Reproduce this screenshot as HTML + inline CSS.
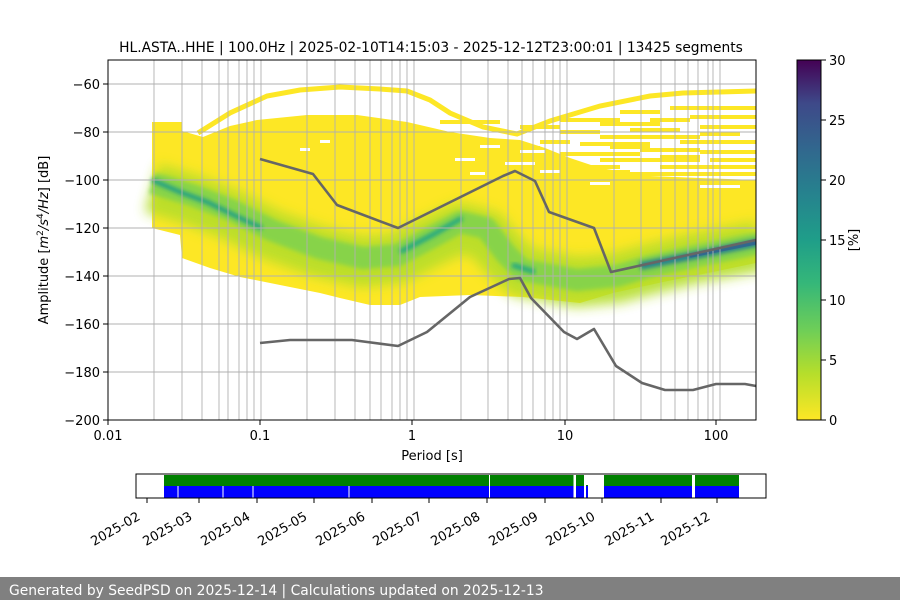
<!DOCTYPE html>
<html><head><meta charset="utf-8"><style>
html,body{margin:0;padding:0;background:#fff;}
svg{display:block;font-family:"DejaVu Sans","Liberation Sans",sans-serif;}
</style></head><body>
<svg width="900" height="600" viewBox="0 0 900 600" xmlns="http://www.w3.org/2000/svg">
<defs>
<linearGradient id="vir" x1="0" y1="1" x2="0" y2="0">
<stop offset="0" stop-color="#fde725"/><stop offset="0.13" stop-color="#b5de2b"/><stop offset="0.25" stop-color="#6ece58"/><stop offset="0.38" stop-color="#35b779"/><stop offset="0.5" stop-color="#1f9e89"/><stop offset="0.63" stop-color="#26828e"/><stop offset="0.75" stop-color="#31688e"/><stop offset="0.88" stop-color="#3e4989"/><stop offset="1" stop-color="#440154"/>
</linearGradient>
<filter id="bl" x="-10%" y="-50%" width="120%" height="200%"><feGaussianBlur stdDeviation="6"/></filter>
<filter id="bl2" x="-10%" y="-50%" width="120%" height="200%"><feGaussianBlur stdDeviation="2"/></filter>
<clipPath id="pc"><rect x="108" y="60" width="648" height="360"/></clipPath>
</defs>
<rect width="900" height="600" fill="#fff"/>
<text x="431" y="52" font-size="13.8" text-anchor="middle">HL.ASTA..HHE | 100.0Hz | 2025-02-10T14:15:03 - 2025-12-12T23:00:01 | 13425 segments</text>
<g clip-path="url(#pc)">
<polyline points="198,133 230,113 267,96 300,90 340,87 380,89 407,91 430,100 450,113 483,127 517,134 550,121 600,106 650,96 683,93 756,91" fill="none" stroke="#fde725" stroke-width="5"/>
<g fill="#fde725">
<rect x="440" y="120" width="60" height="4"/><rect x="520" y="125" width="40" height="4"/><rect x="560" y="118" width="60" height="4"/><rect x="620" y="110" width="40" height="4"/>
<rect x="600" y="122" width="60" height="4"/><rect x="670" y="106" width="86" height="4"/><rect x="690" y="115" width="66" height="4"/>
<rect x="630" y="128" width="50" height="4"/><rect x="700" y="125" width="56" height="4"/><rect x="600" y="135" width="100" height="4"/>
<rect x="580" y="142" width="70" height="4"/><rect x="680" y="140" width="76" height="4"/><rect x="640" y="148" width="60" height="4"/>
<rect x="560" y="152" width="80" height="4"/><rect x="700" y="150" width="56" height="4"/><rect x="600" y="158" width="100" height="4"/>
<rect x="660" y="165" width="96" height="4"/><rect x="560" y="165" width="60" height="4"/><rect x="630" y="172" width="126" height="4"/>
<rect x="540" y="140" width="30" height="4"/><rect x="500" y="146" width="40" height="4"/><rect x="700" y="132" width="40" height="4"/>
<rect x="560" y="130" width="40" height="4"/><rect x="650" y="118" width="40" height="4"/><rect x="610" y="145" width="40" height="4"/>
<rect x="710" y="158" width="46" height="4"/><rect x="590" y="170" width="40" height="4"/><rect x="660" y="155" width="40" height="4"/>
</g>
<path d="M152,122 L182,122 L182,131 L203,137 L230,126 L257,120 L307,115 L357,115 L407,122 L450,132 L490,138 L520,140 L545,148 L570,158 L600,168 L650,176 L700,178 L756,180 L756,263 L713,272 L663,282 L613,293 L580,303 L523,297 L470,295 L420,297 L400,305 L370,305 L340,298 L320,293 L280,285 L240,277 L210,268 L182,258 L180,235 L152,228 Z" fill="#fde725"/>
<g fill="#fff">
<rect x="480" y="145" width="20" height="3"/><rect x="520" y="150" width="25" height="3"/><rect x="455" y="158" width="20" height="3"/><rect x="505" y="162" width="30" height="3"/>
<rect x="540" y="170" width="20" height="3"/><rect x="470" y="172" width="15" height="3"/><rect x="300" y="148" width="10" height="3"/><rect x="320" y="140" width="10" height="3"/>
<rect x="700" y="185" width="40" height="3"/><rect x="590" y="182" width="20" height="3"/>
</g>
<path d="M152,188 L192,200 L231,215 L271,235 L319,252 L363,262 L398,258 L434,240 L460,228 L486,235 L506,258 L522,272 L577,282 L617,278 L647,270 L696,258 L760,246" fill="none" stroke="#b5de2b" stroke-width="50" stroke-linejoin="round" filter="url(#bl)" opacity="0.9"/>
<path d="M152,183 L192,195 L231,210 L271,230 L319,248 L363,258 L398,255 L434,236 L460,222 L486,228 L506,254 L522,270 L577,280 L617,276 L647,267 L696,256 L760,243" fill="none" stroke="#7ad151" stroke-width="22" stroke-linejoin="round" filter="url(#bl2)" opacity="0.8"/>
<path d="M152,180 L180,192 L207,202 L240,218 L262,228" fill="none" stroke="#1f9e89" stroke-width="4.5" filter="url(#bl2)"/>
<path d="M400,252 L434,234 L462,218" fill="none" stroke="#22a884" stroke-width="5" filter="url(#bl2)"/>
<path d="M512,265 L535,272" fill="none" stroke="#22a884" stroke-width="5" filter="url(#bl2)"/>
<path d="M640,266 L696,255 L760,242" fill="none" stroke="#26828e" stroke-width="8" filter="url(#bl2)"/>
<path d="M690,256 L760,242" fill="none" stroke="#31688e" stroke-width="3.5"/>
</g>
<g stroke="#b0b0b0" stroke-width="0.9">
<line x1="108" x2="756" y1="84" y2="84"/><line x1="108" x2="756" y1="132" y2="132"/><line x1="108" x2="756" y1="180" y2="180"/><line x1="108" x2="756" y1="228" y2="228"/><line x1="108" x2="756" y1="276" y2="276"/><line x1="108" x2="756" y1="324" y2="324"/><line x1="108" x2="756" y1="372" y2="372"/>
<line x1="154" x2="154" y1="60" y2="420"/><line x1="182" x2="182" y1="60" y2="420"/><line x1="202" x2="202" y1="60" y2="420"/><line x1="219" x2="219" y1="60" y2="420"/><line x1="228" x2="228" y1="60" y2="420"/><line x1="239" x2="239" y1="60" y2="420"/><line x1="247" x2="247" y1="60" y2="420"/><line x1="254" x2="254" y1="60" y2="420"/><line x1="261" x2="261" y1="60" y2="420"/>
<line x1="307" x2="307" y1="60" y2="420"/><line x1="335" x2="335" y1="60" y2="420"/><line x1="355" x2="355" y1="60" y2="420"/><line x1="370" x2="370" y1="60" y2="420"/><line x1="381" x2="381" y1="60" y2="420"/><line x1="392" x2="392" y1="60" y2="420"/><line x1="400" x2="400" y1="60" y2="420"/><line x1="407" x2="407" y1="60" y2="420"/><line x1="414" x2="414" y1="60" y2="420"/>
<line x1="461" x2="461" y1="60" y2="420"/><line x1="488" x2="488" y1="60" y2="420"/><line x1="508" x2="508" y1="60" y2="420"/><line x1="522" x2="522" y1="60" y2="420"/><line x1="533" x2="533" y1="60" y2="420"/><line x1="545" x2="545" y1="60" y2="420"/><line x1="553" x2="553" y1="60" y2="420"/><line x1="560" x2="560" y1="60" y2="420"/><line x1="567" x2="567" y1="60" y2="420"/>
<line x1="614" x2="614" y1="60" y2="420"/><line x1="641" x2="641" y1="60" y2="420"/><line x1="661" x2="661" y1="60" y2="420"/><line x1="675" x2="675" y1="60" y2="420"/><line x1="688" x2="688" y1="60" y2="420"/><line x1="698" x2="698" y1="60" y2="420"/><line x1="708" x2="708" y1="60" y2="420"/><line x1="713" x2="713" y1="60" y2="420"/><line x1="720" x2="720" y1="60" y2="420"/>
</g>
<polyline points="260,159 313,174 337,205 398,228 503,176 515,171 535,181 549,212 594,228 611,272 756,240" fill="none" stroke="#666" stroke-width="2.6" stroke-linejoin="round"/>
<polyline points="260,343 290,340 352,340 398,346 427,332 470,297 509,279 520,278 531,298 564,332 577,339 594,329 616,366 642,383 665,390 693,390 716,384 745,384 756,386" fill="none" stroke="#666" stroke-width="2.6" stroke-linejoin="round"/>
<rect x="108" y="60" width="648" height="360" fill="none" stroke="#000" stroke-width="1"/>
<g font-size="13" text-anchor="end" fill="#000">
<g stroke="#000"><line x1="103" x2="108" y1="84" y2="84"/><line x1="103" x2="108" y1="132" y2="132"/><line x1="103" x2="108" y1="180" y2="180"/><line x1="103" x2="108" y1="228" y2="228"/><line x1="103" x2="108" y1="276" y2="276"/><line x1="103" x2="108" y1="324" y2="324"/><line x1="103" x2="108" y1="372" y2="372"/><line x1="103" x2="108" y1="420" y2="420"/></g>
<text x="100" y="89">−60</text><text x="100" y="137">−80</text><text x="100" y="185">−100</text><text x="100" y="233">−120</text><text x="100" y="281">−140</text><text x="100" y="329">−160</text><text x="100" y="377">−180</text><text x="100" y="425">−200</text>
</g>
<g font-size="13" text-anchor="middle">
<g stroke="#000"><line x1="108" x2="108" y1="420" y2="425"/><line x1="260" x2="260" y1="420" y2="425"/><line x1="412" x2="412" y1="420" y2="425"/><line x1="565" x2="565" y1="420" y2="425"/><line x1="716" x2="716" y1="420" y2="425"/></g>
<text x="108" y="440">0.01</text><text x="260" y="440">0.1</text><text x="412" y="440">1</text><text x="565" y="440">10</text><text x="716" y="440">100</text>
<text x="432" y="460">Period [s]</text>
</g>
<text transform="translate(48,240) rotate(-90)" font-size="13" text-anchor="middle">Amplitude [<tspan font-style="italic">m</tspan><tspan font-size="9" dy="-5">2</tspan><tspan dy="5" font-style="italic">/s</tspan><tspan font-size="9" dy="-5">4</tspan><tspan dy="5" font-style="italic">/Hz</tspan>] [dB]</text>
<rect x="797" y="60" width="24" height="360" fill="url(#vir)" stroke="#000" stroke-width="1"/>
<g stroke="#000">
<line x1="821" x2="826" y1="420" y2="420"/><line x1="821" x2="826" y1="360" y2="360"/><line x1="821" x2="826" y1="300" y2="300"/><line x1="821" x2="826" y1="240" y2="240"/><line x1="821" x2="826" y1="180" y2="180"/><line x1="821" x2="826" y1="120" y2="120"/><line x1="821" x2="826" y1="60" y2="60"/>
</g>
<g font-size="13">
<text x="829" y="425">0</text><text x="829" y="365">5</text><text x="829" y="305">10</text><text x="829" y="245">15</text><text x="829" y="185">20</text><text x="829" y="125">25</text><text x="829" y="65">30</text>
</g>
<text transform="translate(858,240) rotate(-90)" font-size="13" text-anchor="middle">[%]</text>
<rect x="164" y="475" width="575" height="11" fill="#008000"/>
<rect x="164" y="486" width="575" height="12" fill="#0000ff"/>
<g fill="#fff">
<rect x="177.5" y="486" width="1" height="12"/><rect x="222.5" y="486" width="1" height="12"/><rect x="252.5" y="486" width="1" height="12"/><rect x="348.5" y="486" width="1" height="12"/><rect x="489" y="475" width="1" height="23"/>
<rect x="573.5" y="475" width="2.5" height="23"/><rect x="584" y="475" width="2" height="23"/><rect x="588" y="475" width="16" height="23"/><rect x="586" y="475" width="2" height="10"/>
<rect x="692" y="475" width="3" height="23"/>
</g>
<rect x="136" y="474" width="630" height="24" fill="none" stroke="#000" stroke-width="1"/>
<g stroke="#000">
<line x1="147" x2="147" y1="498" y2="503"/><line x1="199" x2="199" y1="498" y2="503"/><line x1="257" x2="257" y1="498" y2="503"/><line x1="314" x2="314" y1="498" y2="503"/><line x1="372" x2="372" y1="498" y2="503"/><line x1="429" x2="429" y1="498" y2="503"/><line x1="487" x2="487" y1="498" y2="503"/><line x1="545" x2="545" y1="498" y2="503"/><line x1="602" x2="602" y1="498" y2="503"/><line x1="661" x2="661" y1="498" y2="503"/><line x1="717" x2="717" y1="498" y2="503"/>
</g>
<g font-size="13" text-anchor="end">
<text transform="translate(141,519) rotate(-30)">2025-02</text>
<text transform="translate(193,519) rotate(-30)">2025-03</text>
<text transform="translate(251,519) rotate(-30)">2025-04</text>
<text transform="translate(308,519) rotate(-30)">2025-05</text>
<text transform="translate(366,519) rotate(-30)">2025-06</text>
<text transform="translate(423,519) rotate(-30)">2025-07</text>
<text transform="translate(481,519) rotate(-30)">2025-08</text>
<text transform="translate(539,519) rotate(-30)">2025-09</text>
<text transform="translate(596,519) rotate(-30)">2025-10</text>
<text transform="translate(655,519) rotate(-30)">2025-11</text>
<text transform="translate(711,519) rotate(-30)">2025-12</text>
</g>
<rect x="0" y="577" width="900" height="23" fill="#808080"/>
<text x="9" y="595" font-size="13.85" fill="#fff">Generated by SeedPSD on 2025-12-14 | Calculations updated on 2025-12-13</text>
</svg>
</body></html>
